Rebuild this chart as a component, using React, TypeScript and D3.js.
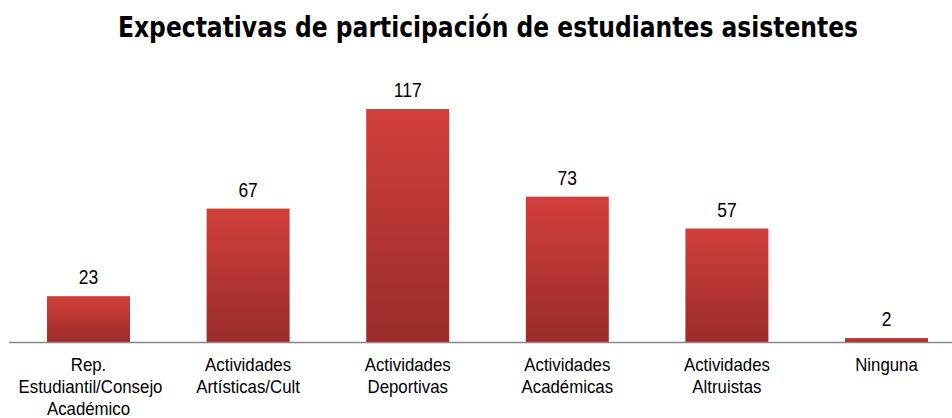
import React from "react";
import * as d3 from "d3";

const categories: string[][] = [
  ["Rep.", "Estudiantil/Consejo", "Académico"],
  ["Actividades", "Artísticas/Cult"],
  ["Actividades", "Deportivas"],
  ["Actividades", "Académicas"],
  ["Actividades", "Altruistas"],
  ["Ninguna"],
];
const values: number[] = [23, 67, 117, 73, 57, 2];
const title = "Expectativas de participación de estudiantes asistentes";

const W = 952;
const H = 418;

function NarrowText(props: { x: number; y: number; size: number; sx: number; children: React.ReactNode }) {
  return (
    <text
      transform={`translate(${props.x},${props.y}) scale(${props.sx},1)`}
      textAnchor="middle"
      fontFamily="'Liberation Sans', Arial, sans-serif"
      fontSize={props.size}
      fill="#000"
    >
      {props.children}
    </text>
  );
}

export default function App() {
  const x = d3
    .scaleBand<number>()
    .domain(values.map((_, i) => i))
    .range([8.7, 966.3])
    .paddingInner(0.48)
    .paddingOuter(0.24);
  const y = d3.scaleLinear().domain([0, 117]).range([342, 109]);
  const titleFont = "'DejaVu Sans Condensed', 'Liberation Sans', sans-serif";
  return (
    <svg
      width={W}
      height={H}
      style={{ position: "absolute", left: 0, top: 0, display: "block", background: "#fff" }}
    >
      <defs>
        <linearGradient id="barGrad" x1="0" y1="0" x2="0" y2="1">
          <stop offset="0%" stopColor="#d13f3b" />
          <stop offset="100%" stopColor="#9a2c2a" />
        </linearGradient>
      </defs>
      <text
        x={488}
        y={37}
        textAnchor="middle"
        fontFamily={titleFont}
        fontWeight="bold"
        fontSize={29}
        fill="#000"
        textLength={740}
        lengthAdjust="spacingAndGlyphs"
      >
        {title}
      </text>
      {values.map((v, i) => {
        const bx = x(i)!;
        const bw = x.bandwidth();
        const cx = bx + bw / 2;
        return (
          <g key={i}>
            <rect x={bx} y={y(v)} width={bw} height={y(0) - y(v)} fill="url(#barGrad)" />
            <NarrowText x={cx} y={y(v) - 11.7} size={21} sx={0.83}>
              {v}
            </NarrowText>
            {categories[i].map((line, j) => (
              <NarrowText key={j} x={cx + (i === 0 && j === 1 ? 2 : 0)} y={371 + j * 22} size={18} sx={0.935}>
                {line}
              </NarrowText>
            ))}
          </g>
        );
      })}
      <line x1={9} x2={W} y1={342.5} y2={342.5} stroke="#888" strokeWidth={1.5} />
    </svg>
  );
}
